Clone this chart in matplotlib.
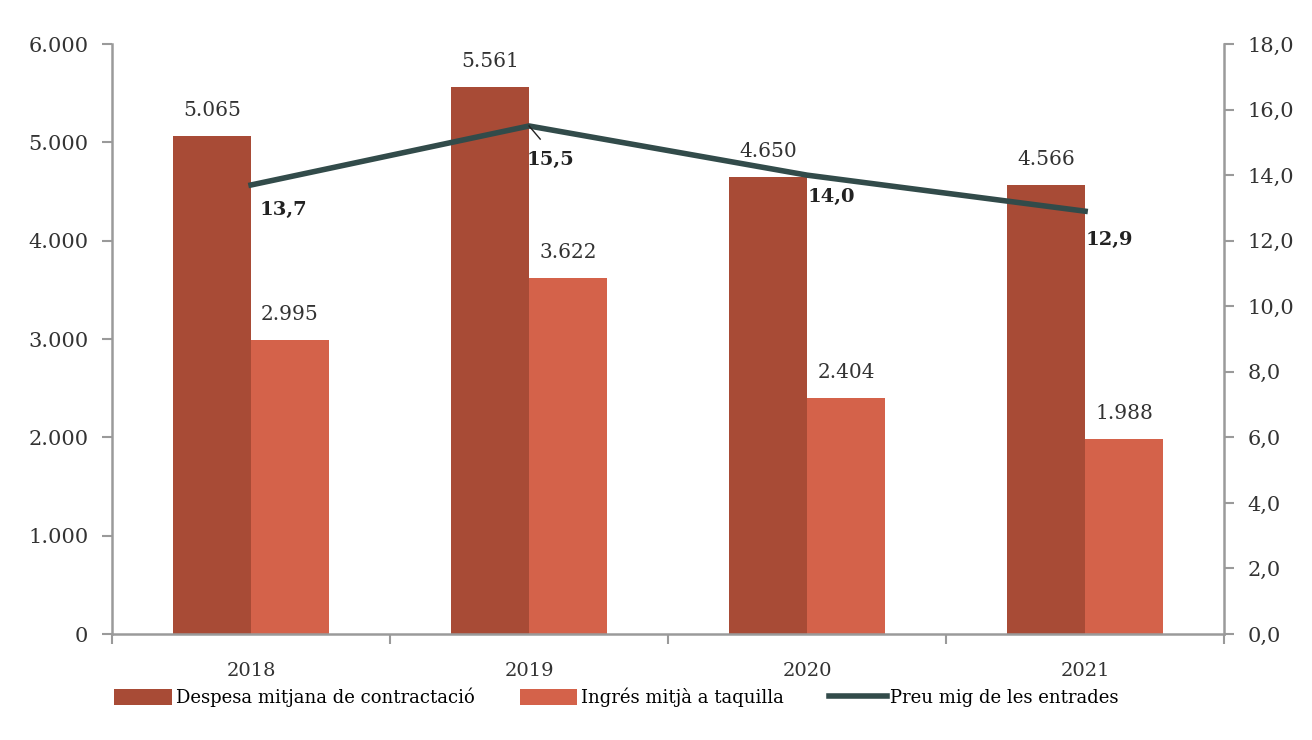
import numpy as np
import matplotlib
matplotlib.use('Agg')
from matplotlib import pyplot as plt

years = ['2018', '2019', '2020', '2021']
despesa = [5065, 5561, 4650, 4566]
ingres = [2995, 3622, 2404, 1988]
preu = [13.7, 15.5, 14.0, 12.9]

despesa_lbl = ['5.065', '5.561', '4.650', '4.566']
ingres_lbl = ['2.995', '3.622', '2.404', '1.988']
preu_lbl = ['13,7', '15,5', '14,0', '12,9']
left_ticks = [0, 1000, 2000, 3000, 4000, 5000, 6000]
left_tick_lbl = ['0', '1.000', '2.000', '3.000', '4.000', '5.000', '6.000']
right_ticks = [0, 2, 4, 6, 8, 10, 12, 14, 16, 18]
right_tick_lbl = ['0,0', '2,0', '4,0', '6,0', '8,0', '10,0', '12,0', '14,0', '16,0', '18,0']

# label placement for the line values (offset from the point)
preu_dx = [0.03, -0.01, 0.0, 0.0]
preu_dy = [0.76, 1.04, 0.67, 0.88]

c_dark = '#a84b36'
c_light = '#d4624a'
c_line = '#324b4a'
c_axis = '#9a9a9a'

plt.rcParams['font.family'] = ['DejaVu Serif']

fig = plt.figure(figsize=(13.12, 7.4), dpi=100)
ax = fig.add_axes([0.0854, 0.1432, 0.8476, 0.7973])
ax2 = ax.twinx()

x = np.arange(len(years))
w = 0.28
ax.bar(x - w / 2, despesa, w, color=c_dark, label='Despesa mitjana de contractació', zorder=2)
ax.bar(x + w / 2, ingres, w, color=c_light, label='Ingrés mitjà a taquilla', zorder=2)

for i in range(len(years)):
    ax.text(x[i] - w / 2, despesa[i] + 160, despesa_lbl[i], ha='center', va='bottom', fontsize=14.5, color='#333333')
    ax.text(x[i] + w / 2, ingres[i] + 160, ingres_lbl[i], ha='center', va='bottom', fontsize=14.5, color='#333333')

ln, = ax2.plot(x, preu, color=c_line, lw=4, label='Preu mig de les entrades', zorder=3)
for i in range(len(years)):
    ax2.text(x[i] + preu_dx[i], preu[i] - preu_dy[i], preu_lbl[i], ha='left', va='center', fontsize=14,
             fontweight='bold', color='#222222', zorder=4)
# small leader line in 2019
ax2.plot([x[1], x[1] + 0.04], [preu[1], preu[1] - 0.4], color='#222222', lw=1, zorder=4)

ax.set_xlim(-0.5, 3.5)
ax.set_ylim(0, 6000)
ax2.set_ylim(0, 18)
ax.set_yticks(left_ticks)
ax.set_yticklabels(left_tick_lbl)
ax2.set_yticks(right_ticks)
ax2.set_yticklabels(right_tick_lbl)
ax.set_xticks(x)
ax.set_xticklabels(years)
ax.set_xticks([-0.5, 0.5, 1.5, 2.5, 3.5], minor=True)
ax.tick_params(axis='x', which='major', length=0, pad=20, labelsize=14, labelcolor='#333333')
ax.tick_params(axis='x', which='minor', length=7, color=c_axis, width=1.5)
ax.tick_params(axis='y', length=7, color=c_axis, width=1.5, labelsize=15, labelcolor='#333333', pad=10)
ax2.tick_params(axis='y', length=7, color=c_axis, width=1.5, labelsize=15, labelcolor='#333333', pad=10)

for a in (ax, ax2):
    a.spines['top'].set_visible(False)
    for s in ('left', 'right', 'bottom'):
        a.spines[s].set_color(c_axis)
        a.spines[s].set_linewidth(1.8)
ax.spines['right'].set_visible(False)
ax2.spines['left'].set_visible(False)
ax2.spines['bottom'].set_visible(False)

h1, l1 = ax.get_legend_handles_labels()
fig.legend(h1 + [ln], l1 + [ln.get_label()], loc='center', bbox_to_anchor=(0.47, 0.058), ncol=3,
           frameon=False, fontsize=13, handlelength=3.2, handleheight=1.0, columnspacing=2.5,
           handletextpad=0.2)

fig.savefig('out.png', dpi=100)
